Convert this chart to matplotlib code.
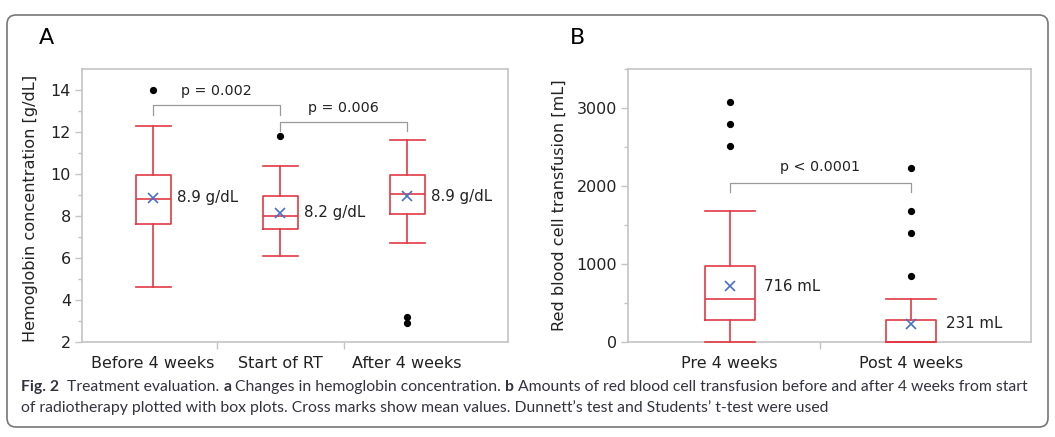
import matplotlib
matplotlib.use("Agg")
import matplotlib.pyplot as plt
from matplotlib import font_manager
from matplotlib.patches import FancyBboxPatch
from matplotlib.ticker import MultipleLocator, FixedLocator

plt.rcParams['font.family'] = 'DejaVu Sans'

# Panel A: hemoglobin concentration
HB_GROUPS = ['Before 4 weeks', 'Start of RT', 'After 4 weeks']
HB_WHISLO = [4.6, 6.1, 6.7]
HB_Q1 = [7.6, 7.4, 8.1]
HB_MED = [8.8, 8.0, 9.05]
HB_Q3 = [9.95, 8.95, 9.95]
HB_WHISHI = [12.3, 10.4, 11.6]
HB_MEAN = [8.88, 8.16, 8.95]
HB_FLIERS = [[14.0], [11.8], [3.2, 2.9]]
HB_MEAN_LABELS = ['8.9 g/dL', '8.2 g/dL', '8.9 g/dL']
HB_PAIRS = [(0, 1), (1, 2)]
HB_P_TEXT = ['p = 0.002', 'p = 0.006']
HB_BRACKET_Y = [13.27, 12.48]
HB_BRACKET_DROP = [12.82, 12.05]
HB_P_Y = [13.97, 13.15]

# Panel B: red blood cell transfusion
RBC_GROUPS = ['Pre 4 weeks', 'Post 4 weeks']
RBC_WHISLO = [0, 0]
RBC_Q1 = [277, 0]
RBC_MED = [555, 0]
RBC_Q3 = [973, 277]
RBC_WHISHI = [1677, 555]
RBC_MEAN = [716, 231]
RBC_FLIERS = [[3081, 2795, 2514], [2236, 1677, 1400, 841]]
RBC_MEAN_LABELS = ['716 mL', '231 mL']
RBC_PAIRS = [(0, 1)]
RBC_P_TEXT = ['p < 0.0001']
RBC_BRACKET_Y = [2040]
RBC_BRACKET_DROP = [1920]
RBC_P_Y = [2250]

RED = '#e23a44'
BLUE = '#4a6fc9'
SPINE = '#c4c4c4'
BRACKET = '#9a9a9a'
TXT = '#222222'
W, H = 1055, 437


def draw_panel(ax, groups, whislo, q1, med, q3, whishi, mean, fliers,
               mean_labels, pairs, p_text, br_y, br_drop, p_y, ylabel):
    stats = []
    for i in range(len(groups)):
        stats.append(dict(whislo=whislo[i], q1=q1[i], med=med[i], q3=q3[i],
                          whishi=whishi[i], mean=mean[i], fliers=fliers[i]))
    pos = list(range(len(groups)))
    arts = ax.bxp(stats, positions=pos, widths=0.275, showmeans=True,
                  manage_ticks=False,
                  boxprops=dict(color=RED, linewidth=1.2),
                  whiskerprops=dict(color=RED, linewidth=1.2),
                  capprops=dict(color=RED, linewidth=1.2),
                  medianprops=dict(color=RED, linewidth=1.2),
                  capwidths=0.275,
                  meanprops=dict(marker='x', markeredgecolor=BLUE, markersize=7,
                                 markeredgewidth=1.2, linestyle='none'),
                  flierprops=dict(marker='o', markerfacecolor='black',
                                  markeredgecolor='black', markersize=4.2))
    for key in arts:
        for a in arts[key]:
            a.set_clip_on(False)
            a.set_zorder(3)
    for i in pos:
        ax.text(i + 0.19, mean[i], mean_labels[i], va='center', ha='left',
                fontsize=10.8, color=TXT)
    for k, (a, b) in enumerate(pairs):
        ax.plot([a, a, b, b], [br_drop[k], br_y[k], br_y[k], br_drop[k]],
                color=BRACKET, linewidth=0.9)
        ax.text((a + b) / 2, p_y[k], p_text[k], ha='center', va='center',
                fontsize=10.3, color=TXT)

    ax.set_xticks(pos)
    ax.set_xticklabels(groups, fontsize=11.5, color=TXT)
    ax.tick_params(axis='x', which='major', length=0, pad=10)
    ax.xaxis.set_minor_locator(FixedLocator([p + 0.5 for p in pos[:-1]]))
    ax.tick_params(axis='x', which='minor', length=5, color=SPINE, width=1)
    ax.tick_params(axis='y', which='major', length=5, color=SPINE, width=1,
                   labelsize=11.5, labelcolor=TXT, pad=3)
    ax.tick_params(axis='y', which='minor', length=3, color=SPINE, width=1)
    for s in ax.spines.values():
        s.set_color(SPINE)
        s.set_linewidth(1.2)
    ax.set_ylabel(ylabel, fontsize=11.6, color=TXT)


fig = plt.figure(figsize=(W / 100, H / 100), dpi=100)

# panel A
axA = fig.add_axes([82 / W, (H - 342) / H, 426 / W, 273 / H])
draw_panel(axA, HB_GROUPS, HB_WHISLO, HB_Q1, HB_MED, HB_Q3, HB_WHISHI, HB_MEAN,
           HB_FLIERS, HB_MEAN_LABELS, HB_PAIRS, HB_P_TEXT, HB_BRACKET_Y,
           HB_BRACKET_DROP, HB_P_Y, 'Hemoglobin concentration [g/dL]')
axA.set_xlim(-0.56, 2.795)
axA.set_ylim(2, 15)
axA.yaxis.set_major_locator(FixedLocator([2, 4, 6, 8, 10, 12, 14]))
axA.yaxis.set_minor_locator(FixedLocator([3, 5, 7, 9, 11, 13]))
axA.yaxis.set_label_coords(-0.104, 0.49)

# panel B
axB = fig.add_axes([628 / W, (H - 342) / H, 403 / W, 273 / H])
draw_panel(axB, RBC_GROUPS, RBC_WHISLO, RBC_Q1, RBC_MED, RBC_Q3, RBC_WHISHI,
           RBC_MEAN, RBC_FLIERS, RBC_MEAN_LABELS, RBC_PAIRS, RBC_P_TEXT,
           RBC_BRACKET_Y, RBC_BRACKET_DROP, RBC_P_Y,
           'Red blood cell transfusion [mL]')
axB.set_xlim(-0.56, 1.66)
axB.set_ylim(0, 3500)
axB.yaxis.set_major_locator(MultipleLocator(1000))
axB.yaxis.set_minor_locator(MultipleLocator(500))
axB.yaxis.set_label_coords(-0.151, 0.5)

# panel letters
fig.text(46 / W, 1 - 38 / H, 'A', fontsize=16, ha='center', va='center')
fig.text(577 / W, 1 - 38 / H, 'B', fontsize=16, ha='center', va='center')

# rounded frame around the figure
frame = FancyBboxPatch((0.07, (H - 427) / 100), 10.41, 4.12,
                       boxstyle='round,pad=0,rounding_size=0.09',
                       transform=fig.dpi_scale_trans, facecolor='none',
                       edgecolor='#777777', linewidth=1.2)
fig.patches.append(frame)

# caption
names = {f.name for f in font_manager.fontManager.ttflist}
cap_font = 'Lato' if 'Lato' in names else 'DejaVu Sans'
line1 = [('Fig. 2', 'bold'), ('  Treatment evaluation. ', 'normal'), ('a', 'bold'),
         (' Changes in hemoglobin concentration. ', 'normal'), ('b', 'bold'),
         (' Amounts of red blood cell transfusion before and after 4 weeks from start', 'normal')]
line2 = [("of radiotherapy plotted with box plots. Cross marks show mean values. "
          "Dunnett\u2019s test and Students\u2019 t-test were used", 'normal')]

renderer = fig.canvas.get_renderer()


def line_width(parts, size):
    total = 0
    for txt, wt in parts:
        t = fig.text(0, 0, txt, fontsize=size, fontweight=wt, family=cap_font)
        total += t.get_window_extent(renderer).width
        t.remove()
    return total


size = 10.0
size = size * 1007 / line_width(line1, size)


def draw_line(parts, y_px):
    x = 21
    for txt, wt in parts:
        t = fig.text(x / W, 1 - y_px / H, txt, fontsize=size, fontweight=wt,
                     family=cap_font, va='center', ha='left', color='#333340')
        x += t.get_window_extent(renderer).width


draw_line(line1, 387)
draw_line(line2, 408)

fig.savefig('out.png', dpi=100)
